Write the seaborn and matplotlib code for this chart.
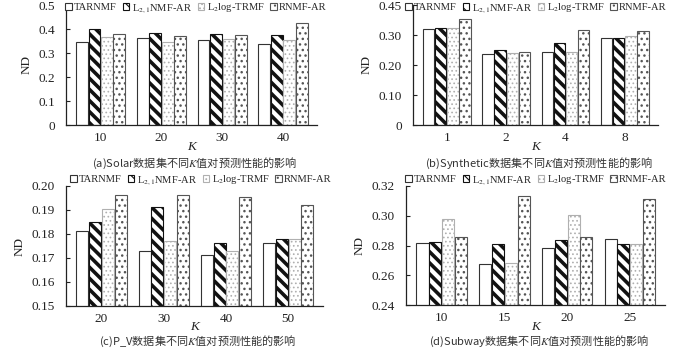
import matplotlib
matplotlib.use("Agg")
import matplotlib.pyplot as plt
import matplotlib.patches as mpatches
import seaborn as sns
import pandas as pd
import numpy as np

sns.set_theme(style="ticks")
plt.rcParams['font.family'] = 'serif'
plt.rcParams['font.serif'] = ['Liberation Serif', 'DejaVu Serif']
plt.rcParams['mathtext.fontset'] = 'stix'
plt.rcParams['hatch.linewidth'] = 0.8

methods = ["TARNMF", r"L$_{2,1}$NMF-AR", r"L$_2$log-TRMF", "RNMF-AR"]

k_solar = ["10", "20", "30", "40"]
solar_tarnmf = [0.344, 0.362, 0.356, 0.336]
solar_l21 = [0.400, 0.382, 0.381, 0.376]
solar_l2log = [0.365, 0.344, 0.360, 0.353]
solar_rnmf = [0.378, 0.369, 0.374, 0.426]

k_syn = ["1", "2", "4", "8"]
syn_tarnmf = [0.321, 0.236, 0.243, 0.290]
syn_l21 = [0.323, 0.250, 0.272, 0.291]
syn_l2log = [0.323, 0.240, 0.242, 0.296]
syn_rnmf = [0.352, 0.242, 0.318, 0.312]

k_pv = ["20", "30", "40", "50"]
pv_tarnmf = [0.1812, 0.1731, 0.1711, 0.1761]
pv_l21 = [0.1852, 0.1912, 0.1762, 0.1781]
pv_l2log = [0.1903, 0.1772, 0.1731, 0.1781]
pv_rnmf = [0.1962, 0.1962, 0.1953, 0.1922]

k_sub = ["10", "15", "20", "25"]
sub_tarnmf = [0.2815, 0.2673, 0.2783, 0.2846]
sub_l21 = [0.2826, 0.2812, 0.2835, 0.2812]
sub_l2log = [0.2976, 0.2682, 0.3005, 0.2812]
sub_rnmf = [0.2857, 0.3133, 0.2857, 0.3113]

yticks_solar = [0, 0.1, 0.2, 0.3, 0.4, 0.5]
ylabels_solar = ["0", "0.1", "0.2", "0.3", "0.4", "0.5"]
yticks_syn = [0, 0.1, 0.2, 0.3, 0.4]
ylabels_syn = ["0", "0.10", "0.20", "0.30", "0.45"]
yticks_pv = [0.15, 0.16, 0.17, 0.18, 0.19, 0.20]
ylabels_pv = ["0.15", "0.16", "0.17", "0.18", "0.19", "0.20"]
yticks_sub = [0.24, 0.26, 0.28, 0.30, 0.32]
ylabels_sub = ["0.24", "0.26", "0.28", "0.30", "0.32"]

captions = ["(a)Solar数据集不同$K$值对预测性能的影响",
            "(b)Synthetic数据集不同$K$值对预测性能的影响",
            "(c)P_V数据集不同$K$值对预测性能的影响",
            "(d)Subway数据集不同$K$值对预测性能的影响"]

styles = [
    dict(hatch="", edgecolor="#333333", hlw=0.8),
    dict(hatch="\\\\\\", edgecolor="#111111", hlw=2.6),
    dict(hatch="....", edgecolor="#b0b0b0", hlw=0.7),
    dict(hatch="...", edgecolor="#555555", hlw=1.0),
]

panels = [
    (k_solar, [solar_tarnmf, solar_l21, solar_l2log, solar_rnmf], (0, 0.5), yticks_solar, ylabels_solar,
     [66, 5, 317, 125], 196, 8, 147, 163),
    (k_syn, [syn_tarnmf, syn_l21, syn_l2log, syn_rnmf], (0, 0.4), yticks_syn, ylabels_syn,
     [413, 5, 658, 125], 536, 8, 147, 163),
    (k_pv, [pv_tarnmf, pv_l21, pv_l2log, pv_rnmf], (0.15, 0.20), yticks_pv, ylabels_pv,
     [66, 186, 323, 306], 201, 180, 327, 341),
    (k_sub, [sub_tarnmf, sub_l21, sub_l2log, sub_rnmf], (0.24, 0.32), yticks_sub, ylabels_sub,
     [406, 186, 665, 305], 536, 180, 327, 341),
]

W, H = 700, 350
fig = plt.figure(figsize=(7, 3.5), dpi=100)

for idx, (cats, series, ylim, yt, yl, box, leg_x, leg_y, k_y, cap_y) in enumerate(panels):
    l, t, r, b = box
    ax = fig.add_axes([l / W, 1 - b / H, (r - l) / W, (b - t) / H])
    rows = []
    for m, vals in zip(methods, series):
        for c, v in zip(cats, vals):
            rows.append({"K": c, "method": m, "ND": v})
    df = pd.DataFrame(rows)
    sns.barplot(data=df, x="K", y="ND", hue="method", hue_order=methods, order=cats,
                ax=ax, width=0.82, gap=0.06, legend=False, errorbar=None)
    for cont, st in zip(ax.containers, styles):
        for bar in cont:
            bar.set_facecolor("white")
            bar.set_edgecolor(st["edgecolor"])
            bar.set_hatch(st["hatch"])
            bar.set_linewidth(0.8)
            if hasattr(bar, "set_hatch_linewidth"):
                bar.set_hatch_linewidth(st["hlw"])
    ax.set_ylim(*ylim)
    ax.set_xlim(-0.57, 3.56)
    ax.set_yticks(yt)
    ax.set_yticklabels(yl)
    sns.despine(ax=ax)
    for sp in ("left", "bottom"):
        ax.spines[sp].set_color("#222222")
        ax.spines[sp].set_linewidth(0.9)
    ax.tick_params(axis='y', direction='in', length=3, width=0.8, labelsize=9.5, pad=8, colors="#222222")
    ax.tick_params(axis='x', length=0, labelsize=9.5, pad=5, colors="#222222")
    ax.set_xlabel("")
    ax.set_ylabel("ND", fontsize=9.5, color="#222222")
    cx = (l + r) / 2 / W
    fig.text(cx, 1 - k_y / H, "K", style="italic", fontsize=9.5, ha="center", va="center", color="#222222")
    fig.text(cx + 0.005, 1 - cap_y / H, captions[idx], fontsize=8, ha="center", va="center",
             family="Noto Sans CJK SC", color="#333333")
    handles = []
    for st in styles:
        p = mpatches.Patch(facecolor="white", edgecolor=st["edgecolor"], hatch=st["hatch"], linewidth=0.8)
        if hasattr(p, "set_hatch_linewidth"):
            p.set_hatch_linewidth(min(st["hlw"], 1.5))
        handles.append(p)
    fig.legend(handles, methods, loc="center", bbox_to_anchor=(leg_x / W, 1 - leg_y / H),
               bbox_transform=fig.transFigure, ncol=4, frameon=False,
               prop={"family": "Liberation Serif", "size": 7.6},
               handlelength=0.6, handleheight=0.6, handletextpad=0.25, columnspacing=0.55,
               borderpad=0, borderaxespad=0)

fig.savefig("out.png", dpi=100)
